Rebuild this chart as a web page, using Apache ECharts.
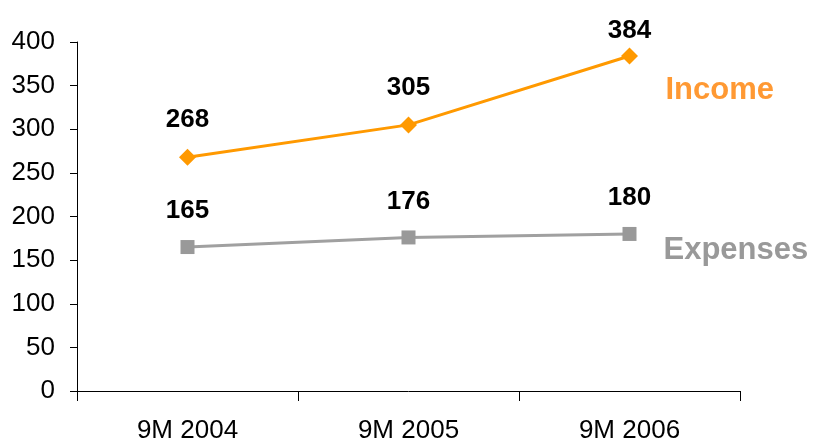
<!DOCTYPE html>
<html>
<head>
<meta charset="utf-8">
<script src="https://cdn.jsdelivr.net/npm/echarts@6/dist/echarts.min.js"></script>
<style>
  html, body { margin: 0; padding: 0; background: #fff; }
  #chart { width: 814px; height: 444px; }
</style>
</head>
<body>
<div id="chart"></div>
<script>
const categories = ['9M 2004', '9M 2005', '9M 2006'];
const income = [268, 305, 384];
const expenses = [165, 176, 180];

const font = 'Liberation Sans, Arial, sans-serif';

let myChart = echarts.init(document.getElementById('chart'), null, { renderer: 'canvas' });

// the top label of the last income point sits closer to its marker
const incomeData = income.map((v, i) =>
  i === income.length - 1 ? { value: v, label: { distance: 4 } } : v
);

let option = {
  animation: false,
  grid: { left: 77, right: 74, top: 42, bottom: 53 },
  xAxis: {
    type: 'category',
    data: categories,
    boundaryGap: true,
    axisLine: { lineStyle: { color: '#000', width: 1 } },
    axisTick: { show: true, length: 10, lineStyle: { color: '#000' } },
    axisLabel: { color: '#000', fontSize: 26, fontFamily: font, margin: 27 },
  },
  yAxis: {
    type: 'value',
    min: 0,
    max: 400,
    interval: 50,
    axisLine: { show: true, lineStyle: { color: '#000', width: 1 } },
    axisTick: { show: true, length: 7, lineStyle: { color: '#000' } },
    splitLine: { show: false },
    axisLabel: { color: '#000', fontSize: 26, fontFamily: font, margin: 22 },
  },
  series: [
    {
      name: 'Income',
      type: 'line',
      data: incomeData,
      symbol: 'diamond',
      symbolSize: 17,
      lineStyle: { color: '#FF9900', width: 3 },
      itemStyle: { color: '#FF9900' },
      label: {
        show: true, position: 'top', distance: 16,
        color: '#000', fontSize: 26, fontWeight: 'bold', fontFamily: font,
      },
      endLabel: {
        show: true, formatter: 'Income', offset: [28, 34],
        color: '#FF9933', fontSize: 31, fontWeight: 'bold', fontFamily: font,
      },
    },
    {
      name: 'Expenses',
      type: 'line',
      data: expenses,
      symbol: 'rect',
      symbolSize: 14,
      lineStyle: { color: '#A0A0A0', width: 3 },
      itemStyle: { color: '#999999' },
      label: {
        show: true, position: 'top', distance: 16,
        color: '#000', fontSize: 26, fontWeight: 'bold', fontFamily: font,
      },
      endLabel: {
        show: true, formatter: 'Expenses', offset: [26, 17],
        color: '#999999', fontSize: 31, fontWeight: 'bold', fontFamily: font,
      },
    },
  ],
};

myChart.setOption(option);
window.addEventListener('resize', myChart.resize);
</script>
</body>
</html>
